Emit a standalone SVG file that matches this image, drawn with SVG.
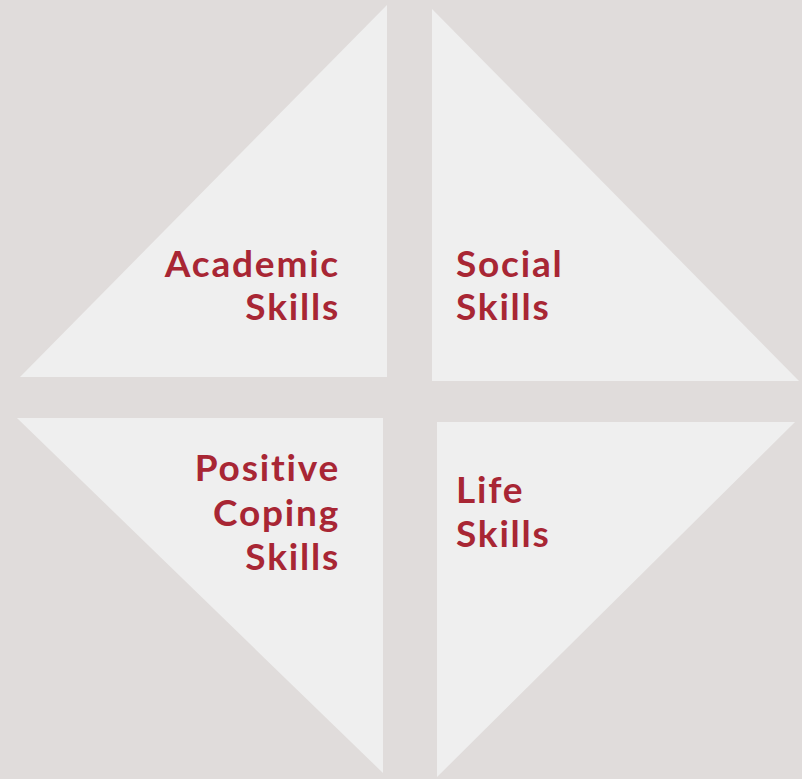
<svg xmlns="http://www.w3.org/2000/svg" width="802" height="779" viewBox="0 0 802 779">
<style>
.tri{fill:#efefef}
.lbl{font-family:Lato,"Open Sans",sans-serif;font-weight:700;font-size:37px;letter-spacing:1.8px;fill:#a82634}
.r{text-anchor:end}
</style>
<rect width="802" height="779" fill="#e0dcdb"/>
<g id="academic">
<polygon class="tri" points="387,5 387,377 20,377"/>
<text class="lbl r" x="340" y="277">Academic</text>
<text class="lbl r" x="340" y="320">Skills</text>
</g>
<g id="social">
<polygon class="tri" points="432,9 799,381 432,381"/>
<text class="lbl" x="456" y="277">Social</text>
<text class="lbl" x="456" y="320">Skills</text>
</g>
<g id="coping">
<polygon class="tri" points="17,418 383,418 383,773"/>
<text class="lbl r" x="340" y="481">Positive</text>
<text class="lbl r" x="340" y="526">Coping</text>
<text class="lbl r" x="340" y="570">Skills</text>
</g>
<g id="life">
<polygon class="tri" points="437,422 795,422 437,777"/>
<text class="lbl" x="456" y="503">Life</text>
<text class="lbl" x="456" y="547">Skills</text>
</g>
<g id="connectors"/>
</svg>
